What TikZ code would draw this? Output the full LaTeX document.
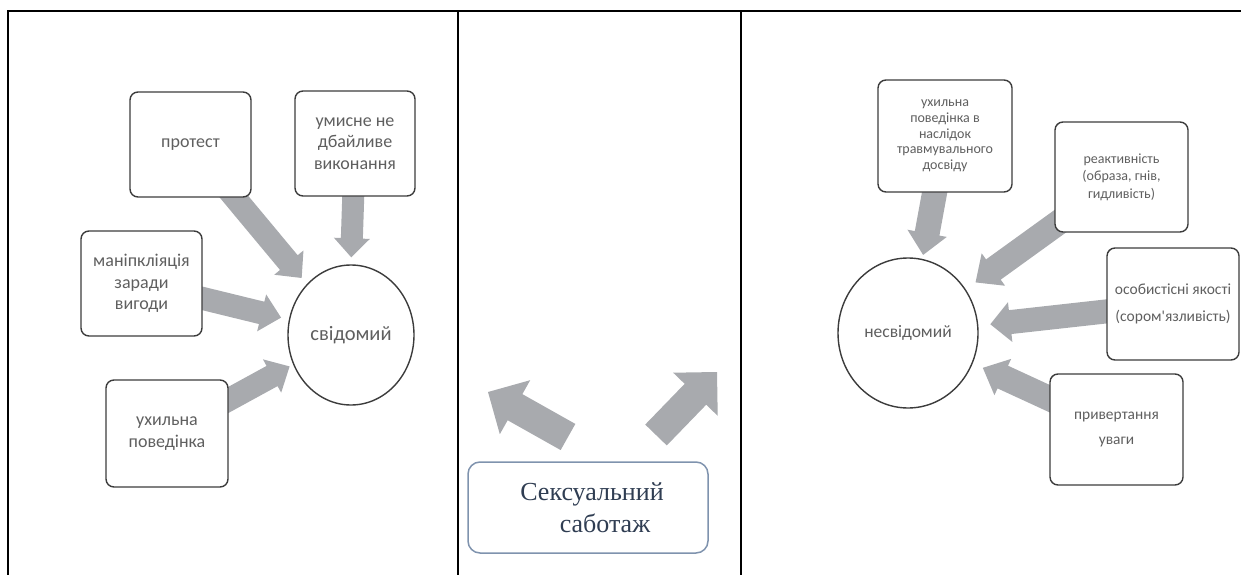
\documentclass[tikz,border=0pt]{standalone}
\usepackage{fontspec}
\newfontfamily\carl{Carlito}
\newfontfamily\tnr{Liberation Serif}
\usetikzlibrary{calc,shapes.geometric}
\definecolor{txtgray}{HTML}{5F5F5F}
\definecolor{boxline}{HTML}{3C3C3C}
\definecolor{arrowfill}{HTML}{A8AAAE}
\definecolor{sabline}{HTML}{7F93AE}
\definecolor{sabtext}{HTML}{2F3D52}
\pgfdeclarelayer{bg}
\pgfsetlayers{bg,main}
% #1 start, #2 tip, #3 half shaft, #4 half head, #5 head length
\newcommand\fatarrow[5]{%
  \path coordinate (fa-h) at ($(#2)!#5!(#1)$);
  \fill[arrowfill] ($(#1)!#3!90:(#2)$) -- ($(fa-h)!#3!-90:(#1)$) -- ($(fa-h)!#4!-90:(#1)$) -- (#2) -- ($(fa-h)!#4!90:(#1)$) -- ($(fa-h)!#3!90:(#1)$) -- ($(#1)!#3!-90:(#2)$) -- cycle;}
\begin{document}
\begin{tikzpicture}[x=1pt,y=-1pt,
  frame/.style={line width=2pt,black},
  boxL/.style={draw=boxline,line width=1.4pt,rounded corners=8pt,fill=white,text=txtgray,
    align=center,inner sep=2pt,font=\carl\fontsize{18}{21.7}\selectfont},
  boxR/.style={boxL,font=\carl\fontsize{14}{15.7}\selectfont},
  oval/.style={ellipse,draw=boxline,line width=1.4pt,fill=white,text=txtgray,inner sep=0pt},
  sabbox/.style={draw=sabline,line width=1.5pt,rounded corners=12pt,fill=white,text=sabtext,
    align=center,font=\tnr\fontsize{26}{32}\selectfont}]
\useasboundingbox (0,0) rectangle (1241,575);
% table frame
\draw[frame] (7,11) -- (1241,11);
\draw[frame] (8,11) -- (8,575);
\draw[frame] (458,11) -- (458,575);
\draw[frame] (741,11) -- (741,575);

% left panel
\node[boxL,minimum width=121pt,minimum height=105pt] (protest) at (190.5,144.5) {протест};
\node[boxL,minimum width=120pt,minimum height=105pt] (umysne) at (355,143.5) {умисне не\\дбайливе\\виконання};
\node[boxL,minimum width=121pt,minimum height=105pt] (manip) at (141.5,283.5) {маніпкліяція\\заради\\вигоди};
\node[boxL,minimum width=122pt,minimum height=107pt] (ukh) at (167,433.5) {ухильна\\поведінка};
\node[oval,minimum width=126pt,minimum height=140pt,font=\carl\fontsize{20.5}{24}\selectfont] (svid) at (351,335) {свідомий};

% right panel
\node[boxR,minimum width=134pt,minimum height=112pt] (r1) at (945,136) {ухильна\\поведінка в\\наслідок\\травмувального\\досвіду};
\node[boxR,minimum width=133pt,minimum height=110pt] (r2) at (1121.5,177) {\raisebox{-10pt}{\fontsize{14}{17.5}\selectfont\begin{tabular}{@{}c@{}}реактивність\\(образа, гнів,\\гидливість)\end{tabular}}};
\node[boxR,minimum width=132pt,minimum height=112pt,font=\carl\fontsize{15.5}{27}\selectfont] (r3) at (1173,304) {особистісні якості\\(сором'язливість)};
\node[boxR,minimum width=133pt,minimum height=111pt,font=\carl\fontsize{15.4}{25}\selectfont] (r4) at (1116.5,429.5) {привертання\\уваги};
\node[oval,minimum width=140pt,minimum height=150pt,font=\carl\fontsize{17.5}{20}\selectfont] (nes) at (908,333) {несвідомий};

% middle
\node[sabbox,minimum width=240pt,minimum height=91pt] (sab) at (588,507.5) {\hspace*{8pt}Сексуальний\\\hspace*{34pt}саботаж};

% arrow tips and free ends
\coordinate (t1) at ($(svid.131)!8pt!(protest.center)$);
\coordinate (t2) at ($(svid.90)!7pt!(umysne.center)$);
\coordinate (t3) at ($(svid.166)!8pt!(manip.center)$);
\coordinate (t4) at ($(svid.207)!4pt!(ukh.center)$);
\coordinate (u1) at ($(nes.79)!4pt!(r1.center)$);
\coordinate (u2) at ($(nes.37)!12pt!(r2.center)$);
\coordinate (u3) at ($(nes.6)!12pt!(r3.center)$);
\coordinate (u4) at ($(nes.-25)!11pt!(r4.center)$);
\coordinate (m1s) at ($(sab.center)+(-20,-70.5)$);
\coordinate (m1t) at ($(sab.center)+(-100,-115.5)$);
\coordinate (m2s) at ($(sab.center)+(68,-72.5)$);
\coordinate (m2t) at ($(sab.center)+(129,-135.5)$);

\begin{pgfonlayer}{bg}
\fatarrow{protest.center}{t1}{11.5pt}{19pt}{20pt}
\fatarrow{umysne.center}{t2}{11pt}{18pt}{19pt}
\fatarrow{manip.center}{t3}{11.5pt}{19pt}{20pt}
\fatarrow{ukh.center}{t4}{11.5pt}{19pt}{20pt}
\fatarrow{r1.center}{u1}{12.5pt}{20pt}{22pt}
\fatarrow{r2.center}{u2}{12.5pt}{20pt}{22pt}
\fatarrow{r3.center}{u3}{12pt}{20pt}{20pt}
\fatarrow{r4.center}{u4}{12.5pt}{20pt}{22pt}
\fatarrow{m1s}{m1t}{15pt}{31pt}{31pt}
\fatarrow{m2s}{m2t}{15pt}{31pt}{31pt}
\end{pgfonlayer}
\end{tikzpicture}
\end{document}
